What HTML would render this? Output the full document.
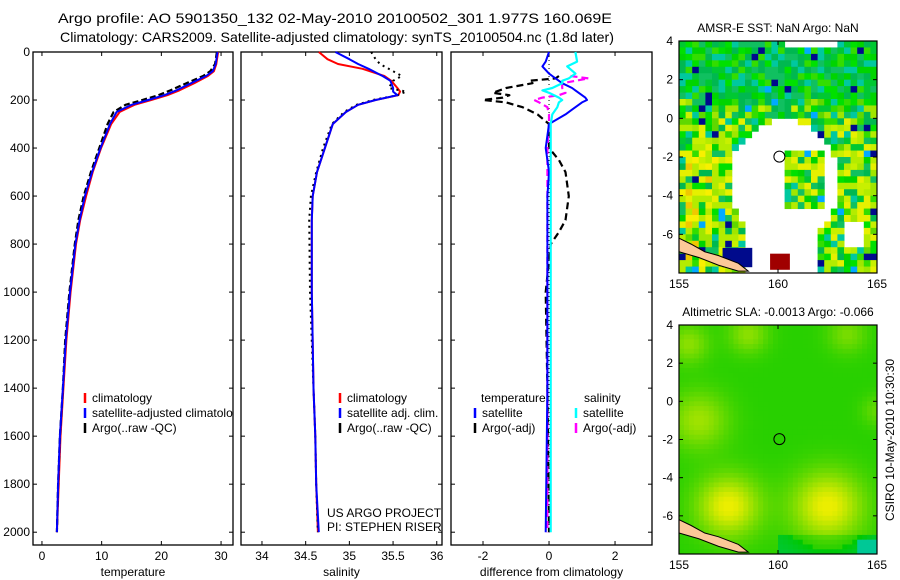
<!DOCTYPE html>
<html><head><meta charset="utf-8">
<style>
body{margin:0;background:#fff;}
svg{display:block;font-family:"Liberation Sans",sans-serif;}
text{fill:#000;}
</style></head>
<body>
<svg id="fig" width="900" height="580" viewBox="0 0 900 580" xmlns="http://www.w3.org/2000/svg">
<defs><clipPath id="clip1"><rect x="33" y="52" width="200" height="493"/></clipPath></defs>
<rect width="900" height="580" fill="#fff"/>
<text x="58" y="23" font-size="14" textLength="554" lengthAdjust="spacingAndGlyphs">Argo profile: AO 5901350_132 02-May-2010 20100502_301 1.977S 160.069E</text>
<text x="60" y="42" font-size="14" textLength="554" lengthAdjust="spacingAndGlyphs">Climatology: CARS2009. Satellite-adjusted climatology: synTS_20100504.nc (1.8d later)</text>
<g id="charts"></g>
<g id="maps"></g>
<text transform="translate(894,440) rotate(-90)" font-size="12" text-anchor="middle">CSIRO 10-May-2010 10:30:30</text>
</svg>
<script>
// ---- data ----
const depthT = [0,50,80,100,130,160,180,200,220,250,300,400,500,600,700,800,1000,1200,1400,1600,1800,2000];
const tempSat = [29.4,29.1,28.6,27.5,25,22.5,20.5,17.8,15,12.5,11.4,9.8,8.4,7.2,6.3,5.6,4.7,4.0,3.5,3.0,2.7,2.5];
const tempClim = [29.5,29.2,28.8,27.8,25.5,23,21,18.3,15.5,13,11.6,9.9,8.5,7.4,6.4,5.7,4.8,4.1,3.6,3.1,2.8,2.5];
const tempArgo = [29.3,29.0,28.2,27.0,24.2,21.5,19.5,16.8,14,12.0,11.0,9.6,8.2,7.0,6.1,5.5,4.6,3.9,3.5,3.0,2.7,2.5];
const depthS = [0,30,50,70,100,120,150,165,180,200,220,250,300,400,500,600,700,1000,1400,1600,1800,2000];
const salClim = [34.65,34.75,34.87,35.15,35.4,35.48,35.55,35.58,35.56,35.3,35.1,34.96,34.81,34.72,34.63,34.58,34.57,34.57,34.59,34.61,34.62,34.64];
const salSat = [34.84,35.0,35.1,35.22,35.38,35.47,35.5,35.5,35.55,35.3,35.1,34.96,34.81,34.72,34.63,34.58,34.57,34.57,34.59,34.61,34.62,34.65];
const salArgo = [35.25,35.3,35.35,35.45,35.6,35.5,35.45,35.65,35.55,35.27,35.08,34.94,34.8,34.7,34.62,34.56,34.54,34.55,34.59,34.61,34.62,34.64];
const depthD = [0,40,60,90,100,110,120,130,150,160,170,190,200,210,230,240,260,300,400,450,500,600,700,750,800,1000,1400,2000];
const dTempSat = [0,-0.1,-0.2,0,0.1,0.2,0.3,0.4,0.7,0.8,0.9,1.1,1.15,1.0,0.8,0.7,0.5,0,-0.1,-0.05,0,-0.05,-0.05,-0.05,-0.05,-0.05,-0.05,-0.1];
const dSalSat = [0.8,0.85,0.55,0.8,0.7,0.6,0.4,0.4,0.1,-0.2,0,0.3,0.4,0.3,0.25,0.2,0.1,0.05,0.05,0.05,0.05,0.05,0.05,0.05,0.05,0.05,0.05,0.05];
const depthDA = [100,110,120,130,150,170,180,190,200,210,230,260,300,400,450,500,600,700,750,800,1000,1400,2000];
const dTempArgo = [0.3,0.2,-0.6,-0.5,-1.3,-1.7,-1.2,-1.4,-2.0,-1.3,-0.8,-0.35,0,0,0.3,0.5,0.6,0.5,0.3,0.05,-0.1,-0.05,0];
const dSalArgo = [0.65,1.2,0.8,0.4,0.4,0.5,0.3,-0.2,-0.45,-0.3,-0.05,0,0,-0.05,-0.05,-0.05,-0.05,-0.05,-0.05,-0.05,-0.05,-0.05,-0.05];
const depthTicks = [0,200,400,600,800,1000,1200,1400,1600,1800,2000];
const tempTicks = [0,10,20,30];
const salTicks = ["34","34.5","35","35.5","36"];
const diffTicks = [-2,0,2];

const NS="http://www.w3.org/2000/svg";
const charts=document.getElementById('charts');
function mk(tag,attrs,parent){const e=document.createElementNS(NS,tag);for(const k in attrs)e.setAttribute(k,attrs[k]);(parent||charts).appendChild(e);return e;}
const top0=52, yBot=545;
const yD=d=>top0+d*0.2401;

function panel(name,x0,x1,xmin,xmax,ticks,title,showY){
  const g=mk('g',{});
  
  
  const sx=v=>x0+(v-xmin)/(xmax-xmin)*(x1-x0);
  const box=mk('rect',{x:x0,y:top0,width:x1-x0,height:yBot-top0,fill:'none',stroke:'#000','stroke-width':1.3},g);
  
  
  ticks.forEach(t=>{const v=parseFloat(t);const x=sx(v);
    mk('line',{x1:x,x2:x,y1:yBot,y2:yBot-4,stroke:'#000'},g);
    mk('line',{x1:x,x2:x,y1:top0,y2:top0+4,stroke:'#000'},g);
    const tx=mk('text',{x:x,y:yBot+15,'font-size':12,'text-anchor':'middle'},g);tx.textContent=t;
    
    
  });
  depthTicks.forEach(d=>{const y=yD(d);
    mk('line',{x1:x0,x2:x0+4,y1:y,y2:y,stroke:'#000'},g);
    mk('line',{x1:x1,x2:x1-4,y1:y,y2:y,stroke:'#000'},g);
    if(showY){const tx=mk('text',{x:x0-3,y:y+4,'font-size':12,'text-anchor':'end'},g);tx.textContent=d;
      
      }
  });
  const at=mk('text',{x:(x0+x1)/2,y:576,'font-size':12,'text-anchor':'middle'},g);at.textContent=title;
  
  
  return {g,sx};
}
function line(p,depths,vals,color,w,dash,name){
  const pts=depths.map((d,i)=>p.sx(vals[i]).toFixed(1)+','+yD(d).toFixed(1)).join(' ');
  const a={points:pts,fill:'none',stroke:color,'stroke-width':w,'stroke-linejoin':'round'};
  if(dash)a['stroke-dasharray']=dash;
  const e=mk('polyline',a,p.g);
  
  
}
function legend(p,x,y,items,clip){
  const lg=mk('g',clip?{'clip-path':'url(#'+clip+')'}:{},p.g);
  
  
  items.forEach((it,i)=>{
    mk('line',{x1:x,x2:x,y1:y+i*15-9,y2:y+i*15+1,stroke:it[1],'stroke-width':2.5},lg);
    const t=mk('text',{x:x+7,y:y+i*15,'font-size':12},lg);t.textContent=it[0];
    
    
  });
}
// panel 1
const p1=panel('temperature-panel',33,233,-1.5,32,tempTicks,'temperature',true);
line(p1,depthT,tempClim,'#f00',2,null,'temp-climatology-line');
line(p1,depthT,tempArgo,'#000',2.2,'6,3','temp-argo-line');
line(p1,depthT,tempSat,'#00f',2,null,'temp-satellite-line');
legend(p1,85,402,[['climatology','#f00'],['satellite-adjusted climatology','#00f'],['Argo(..raw -QC)','#000']],'clip1');
// panel 2
const p2=panel('salinity-panel',241,442,33.76,36.06,salTicks,'salinity',false);
line(p2,depthS,salClim,'#f00',2,null,'sal-climatology-line');
line(p2,depthS,salArgo,'#000',2,'2,4','sal-argo-line');
line(p2,depthS,salSat,'#00f',2,null,'sal-satellite-line');
legend(p2,340,402,[['climatology','#f00'],['satellite adj. clim.','#00f'],['Argo(..raw -QC)','#000']]);
[['US ARGO PROJECT',517],['PI: STEPHEN RISER',531]].forEach(a=>{const t=mk('text',{x:327,y:a[1],'font-size':12},p2.g);t.textContent=a[0];
  
  });
// panel 3
const p3=panel('difference-panel',451,652,-2.97,3.12,diffTicks,'difference from climatology',false);
mk('line',{x1:p3.sx(0),x2:p3.sx(0),y1:top0,y2:yD(2000),stroke:'#000','stroke-dasharray':'1,3'},p3.g);
line(p3,depthDA,dTempArgo,'#000',2.2,'7,4','diff-temp-argo-line');
line(p3,depthDA,dSalArgo,'#f0f',2.2,'7,4','diff-sal-argo-line');
line(p3,depthD,dTempSat,'#00f',2,null,'diff-temp-satellite-line');
line(p3,depthD,dSalSat,'#0ff',2.2,null,'diff-sal-satellite-line');
(function(){const t=mk('text',{x:481,y:402,'font-size':12},p3.g);t.textContent='temperature';


const s=mk('text',{x:584,y:402,'font-size':12},p3.g);s.textContent='salinity';

})();
legend(p3,475,417,[['satellite','#00f'],['Argo(-adj)','#000']]);
legend(p3,576,417,[['satellite','#0ff'],['Argo(-adj)','#f0f']]);

// ---- maps ----
const maps=document.getElementById('maps');
function mapPanel(name,top,bottom,title,fill){
  const x0=679,x1=877;
  const g=mk('g',{},maps);
  
  
  const lx=v=>x0+(v-155)/10*(x1-x0);
  const ly=v=>top+(4-v)/12*(bottom-top);
  fill(g,x0,x1,top,bottom,lx,ly);
  // coast
  const c=mk('polygon',{points:[[155,-6.9],[155,-6.2],[155.6,-6.5],[156.3,-6.9],[157,-7.1],[158,-7.5],[158.5,-7.9],[158,-7.9],[157,-7.6],[156,-7.2]].map(p=>lx(p[0])+','+ly(p[1])).join(' '),fill:'#fcc898',stroke:'#000','stroke-width':1},g);
  
  
  const m=mk('circle',{cx:lx(160.07),cy:ly(-1.98),r:5.5,fill:'none',stroke:'#000','stroke-width':1},g);
  
  
  mk('rect',{x:x0,y:top,width:x1-x0,height:bottom-top,fill:'none',stroke:'#000','stroke-width':1.2},g);
  [155,160,165].forEach(v=>{const x=lx(v);mk('line',{x1:x,x2:x,y1:bottom,y2:bottom-4,stroke:'#000'},g);mk('line',{x1:x,x2:x,y1:top,y2:top+4,stroke:'#000'},g);
    const t=mk('text',{x:x,y:bottom+15,'font-size':12,'text-anchor':'middle'},g);t.textContent=v;
    
    });
  [4,2,0,-2,-4,-6].forEach(v=>{const y=ly(v);mk('line',{x1:x0,x2:x0+4,y1:y,y2:y,stroke:'#000'},g);mk('line',{x1:x1,x2:x1-4,y1:y,y2:y,stroke:'#000'},g);
    const t=mk('text',{x:x0-6,y:y+4,'font-size':12,'text-anchor':'end'},g);t.textContent=v;
    
    });
  const tt=mk('text',{x:(x0+x1)/2,y:top-9,'font-size':12,'text-anchor':'middle'},g);tt.textContent=title;
  
  
}
function hash(i,j){let h=(i*73856093)^(j*19349663);h=(h^(h>>>13))*1274126177;return ((h^(h>>>16))>>>0)/4294967296;}
const sstPal=['#00c832','#00d400','#00b850','#00e000','#33dd00','#10c060','#00c8a0','#a0e600','#c8f000','#60d800'];
mapPanel('amsr-sst-map',41,273,'AMSR-E SST: NaN Argo: NaN',(g,x0,x1,top,bot,lx,ly)=>{
  const cw=(x1-x0)/30,ch=(bot-top)/36;
  for(let j=0;j<36;j++)for(let i=0;i<30;i++){
    const lon=155+i/3+1/6,lat=4-j/3-1/6;
    const dx=(lon-160.3)/2.8,dy=(lat+3.3)/3.2;
    let white=(dx*dx+dy*dy<1)&&!(lon>160.2&&lon<162.2&&lat>-4.7&&lat<-1.6);
    if(lat<-5&&lon>158.2&&lon<162)white=true;
    if(lat>3.6&&lon>160.3&&lon<163)white=true;
    if(lat<-5.5&&lon>163.3&&lon<164.3&&lat>-6.8)white=true;
    if(white)continue;
    const r=hash(i,j);let col;
    const south=lat<0;
    if(r>0.97)col='#000a8c';else if(r>0.93)col='#00aaff';
    else if(south&&r>0.55)col=r>0.8?'#e6f000':'#b4ec00';
    else if(south&&lat<-1.5&&lon<157.5&&r>0.4)col=r>0.5?'#f0c800':'#f8f000';
    else col=sstPal[Math.floor(r*1000)%(lat>1?7:10)];
    mk('rect',{x:x0+i*cw,y:top+j*ch,width:cw+0.5,height:ch+0.5,fill:col},g);
  }
  mk('rect',{x:lx(157.2),y:ly(-6.7),width:cw*4.5,height:ch*3,fill:'#000a8c'},g);
  mk('rect',{x:lx(159.6),y:ly(-7.0),width:cw*3,height:ch*2.5,fill:'#a00000'},g);
});
mapPanel('altimetric-sla-map',325,554,'Altimetric SLA: -0.0013 Argo: -0.066',(g,x0,x1,top,bot,lx,ly)=>{
  const cw=(x1-x0)/40,ch=(bot-top)/48;
  const blobs=[[157.5,-5.5,1.6,1],[162.5,-5.5,1.8,1],[156,-1,1.5,0.6],[158.5,3.5,1,0.5],[163.5,3.5,1,0.4],[155.5,3,1,0.5],[165,-0.5,0.8,0.3]];
  for(let j=0;j<48;j++)for(let i=0;i<40;i++){
    const lon=155+i/4+1/8,lat=4-j/4-1/8;
    let v=0;blobs.forEach(b=>{const dx=(lon-b[0])/b[2],dy=(lat-b[1])/b[2];v+=b[3]*Math.exp(-(dx*dx+dy*dy));});
    if(lat<-7.0&&lon>160)v-=0.2;
    if(lat<-7.3&&lon>164)v=-0.5;
    v=Math.max(-0.5,Math.min(1.1,v));
    let r,gg,b;
    if(v>=0){r=Math.round(40+200*v);gg=Math.round(208+30*v);b=0;}else{r=0;gg=200;b=Math.round(-v*300);}
    mk('rect',{x:x0+i*cw,y:top+j*ch,width:cw+0.5,height:ch+0.5,fill:`rgb(${Math.min(r,235)},${Math.min(gg,240)},${b})`},g);
  }
});
</script>
</body></html>
